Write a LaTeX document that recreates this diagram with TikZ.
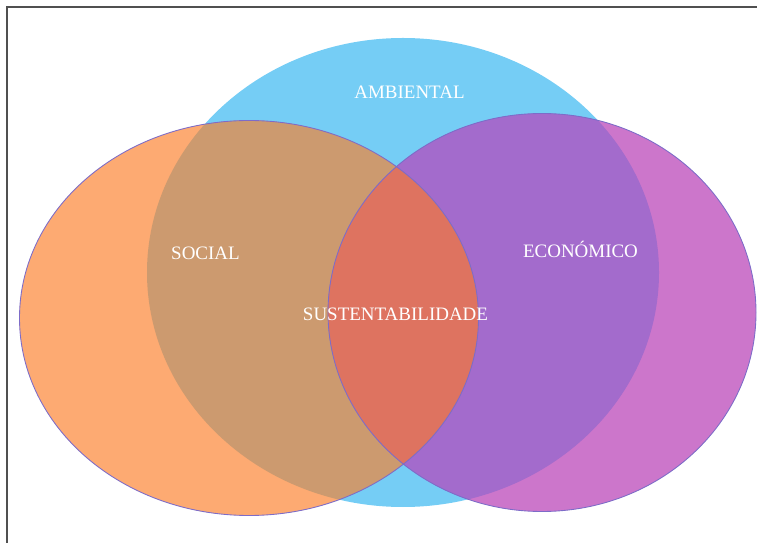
\documentclass[tikz,border=0pt]{standalone}
\usepackage{fontspec}
\setmainfont{Liberation Serif}
\usepackage{tikz}
\usetikzlibrary{positioning}
\definecolor{ambblue}{RGB}{117,205,245}
\definecolor{socorange}{RGB}{253,170,114}
\definecolor{ecopurple}{RGB}{204,118,203}
\definecolor{socamb}{RGB}{204,154,111}
\definecolor{ecoamb}{RGB}{163,107,204}
\definecolor{allthree}{RGB}{222,115,96}
\definecolor{rim}{RGB}{125,108,200}
\definecolor{framegray}{RGB}{80,80,80}

\newcommand{\ambell}{(403,272.5) ellipse [x radius=256, y radius=234.5]}
\newcommand{\socell}{(249,318) ellipse [x radius=229.5, y radius=197.5]}
\newcommand{\ecoell}{(542,312.5) ellipse [x radius=214, y radius=199]}

\begin{document}
\begin{tikzpicture}[x=0.02cm, y=-0.02cm,
		lbl/.style = {text=white, inner sep=0pt, anchor=base, font=\fontsize{10.8}{13}\selectfont},
		rimline/.style = {draw=rim, line width=0.5pt}]
	\useasboundingbox (0,0) rectangle (757,543);
	\draw[framegray, line width=1.1pt] (6.8,600) -- (6.8,7.3) -- (800,7.3);
	% the three circles
	\fill[ambblue] \ambell;
	\fill[socorange] \socell;
	\fill[ecopurple] \ecoell;
	% overlaps
	\begin{scope}
		\clip \ambell;
		\fill[socamb] \socell;
		\fill[ecoamb] \ecoell;
		\clip \socell;
		\fill[allthree] \ecoell;
	\end{scope}
	\path[rimline] \socell;
	\path[rimline] \ecoell;
	% labels
	\node[lbl] (amb) at (409.5,98.5) {AMBIENTAL};
	\node[lbl] (soc) at (205.5,259.5) {SOCIAL};
	\node[lbl] (eco) at (580.5,257.5) {ECONÓMICO};
	\node[lbl] (sus) at (395.5,320.5) {SUSTENTABILIDADE};
\end{tikzpicture}
\end{document}
